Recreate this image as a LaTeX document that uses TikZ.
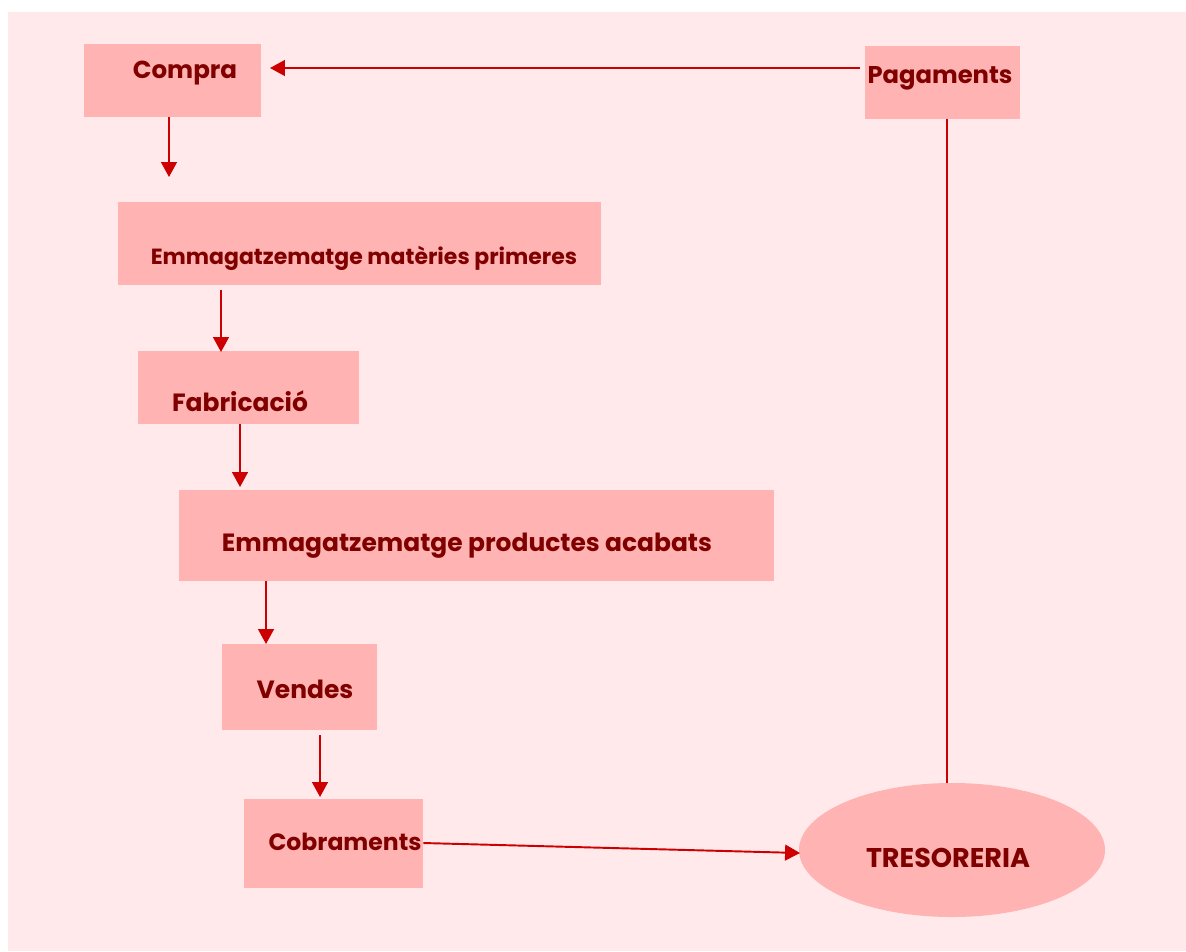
\documentclass[tikz,border=0pt]{standalone}
\usepackage{fontspec}
\setmainfont{Poppins}
\usetikzlibrary{arrows.meta,shapes.geometric}
\definecolor{fons}{HTML}{FFE9EA}
\definecolor{caixa}{HTML}{FFB3B3}
\definecolor{lletra}{HTML}{800000}
\definecolor{fletxa}{HTML}{CC0000}
\tikzset{
  caixa/.style={fill=caixa, inner sep=0pt},
  rotul/.style={text=lletra, font=\bfseries, inner sep=0pt},
  fl/.style={draw=fletxa, line width=1.1pt, -{Triangle[length=8.5pt,width=9pt]}},
}
\begin{document}
\begin{tikzpicture}[x=0.02cm,y=-0.02cm]
  \useasboundingbox (0,0) rectangle (1186,951);
  \fill[fons] (8,12) rectangle (1186,951);
  % caixes
  \node[caixa, minimum width=177*0.02cm, minimum height=73*0.02cm] (compra) at (172.5,80.5) {};
  \node[caixa, minimum width=155*0.02cm, minimum height=73*0.02cm] (pagaments) at (942.5,82.5) {};
  \node[caixa, minimum width=483*0.02cm, minimum height=83*0.02cm] (emmp) at (359.5,243.5) {};
  \node[caixa, minimum width=221*0.02cm, minimum height=73*0.02cm] (fabricacio) at (248.5,387.5) {};
  \node[caixa, minimum width=595*0.02cm, minimum height=91*0.02cm] (empa) at (476.5,535.5) {};
  \node[caixa, minimum width=155*0.02cm, minimum height=86*0.02cm] (vendes) at (299.5,687) {};
  \node[caixa, minimum width=179*0.02cm, minimum height=89*0.02cm] (cobraments) at (333.5,843.5) {};
  \node[caixa, ellipse, minimum width=306*0.02cm, minimum height=134*0.02cm] (tresoreria) at (952,850) {};
  % textos
  \node[rotul, font=\bfseries\fontsize{14}{16}\selectfont] (compra-t) at (185,73) {Compra};
  \node[rotul, font=\bfseries\fontsize{13.8}{16}\selectfont] (pagaments-t) at (940,78) {Pagaments};
  \node[rotul, font=\bfseries\fontsize{12.5}{14}\selectfont] (emmp-t) at (364,258) {Emmagatzematge matèries primeres};
  \node[rotul, font=\bfseries\fontsize{14.2}{16}\selectfont] (fabricacio-t) at (240,401) {Fabricació};
  \node[rotul, font=\bfseries\fontsize{14.2}{16}\selectfont] (empa-t) at (467,546) {Emmagatzematge productes acabats};
  \node[rotul, font=\bfseries\fontsize{14.2}{16}\selectfont] (vendes-t) at (305,689) {Vendes};
  \node[rotul, font=\bfseries\fontsize{13.4}{15}\selectfont] (cobraments-t) at (345,842) {Cobraments};
  \node[rotul, font=\bfseries\fontsize{15.4}{17}\selectfont] (tresoreria-t) at (948,858) {TRESORERIA};
  % puntes lliures
  \coordinate (p1) at (270,68);
  \coordinate (p2) at (169,177);
  \coordinate (p3) at (221,352);
  \coordinate (p4) at (240,487);
  \coordinate (p5) at (266,644);
  \coordinate (p6) at (320,797);
  \coordinate (p7) at (800,853);
  \coordinate (q1) at (860,68);
  \coordinate (q3) at (221,290);
  \coordinate (q6) at (320,735);
  % fletxes
  \draw[fl] (q1) -- (p1);
  \draw[fl] (compra.south -| p2) -- (p2);
  \draw[fl] (q3) -- (p3);
  \draw[fl] (fabricacio.south -| p4) -- (p4);
  \draw[fl] (empa.south -| p5) -- (p5);
  \draw[fl] (q6) -- (p6);
  \draw[fl] (cobraments.east |- 0,843) -- (p7);
  \draw[draw=fletxa, line width=1.1pt] (pagaments.south -| 947,0) -- (tresoreria.north -| 947,0);
\end{tikzpicture}
\end{document}
